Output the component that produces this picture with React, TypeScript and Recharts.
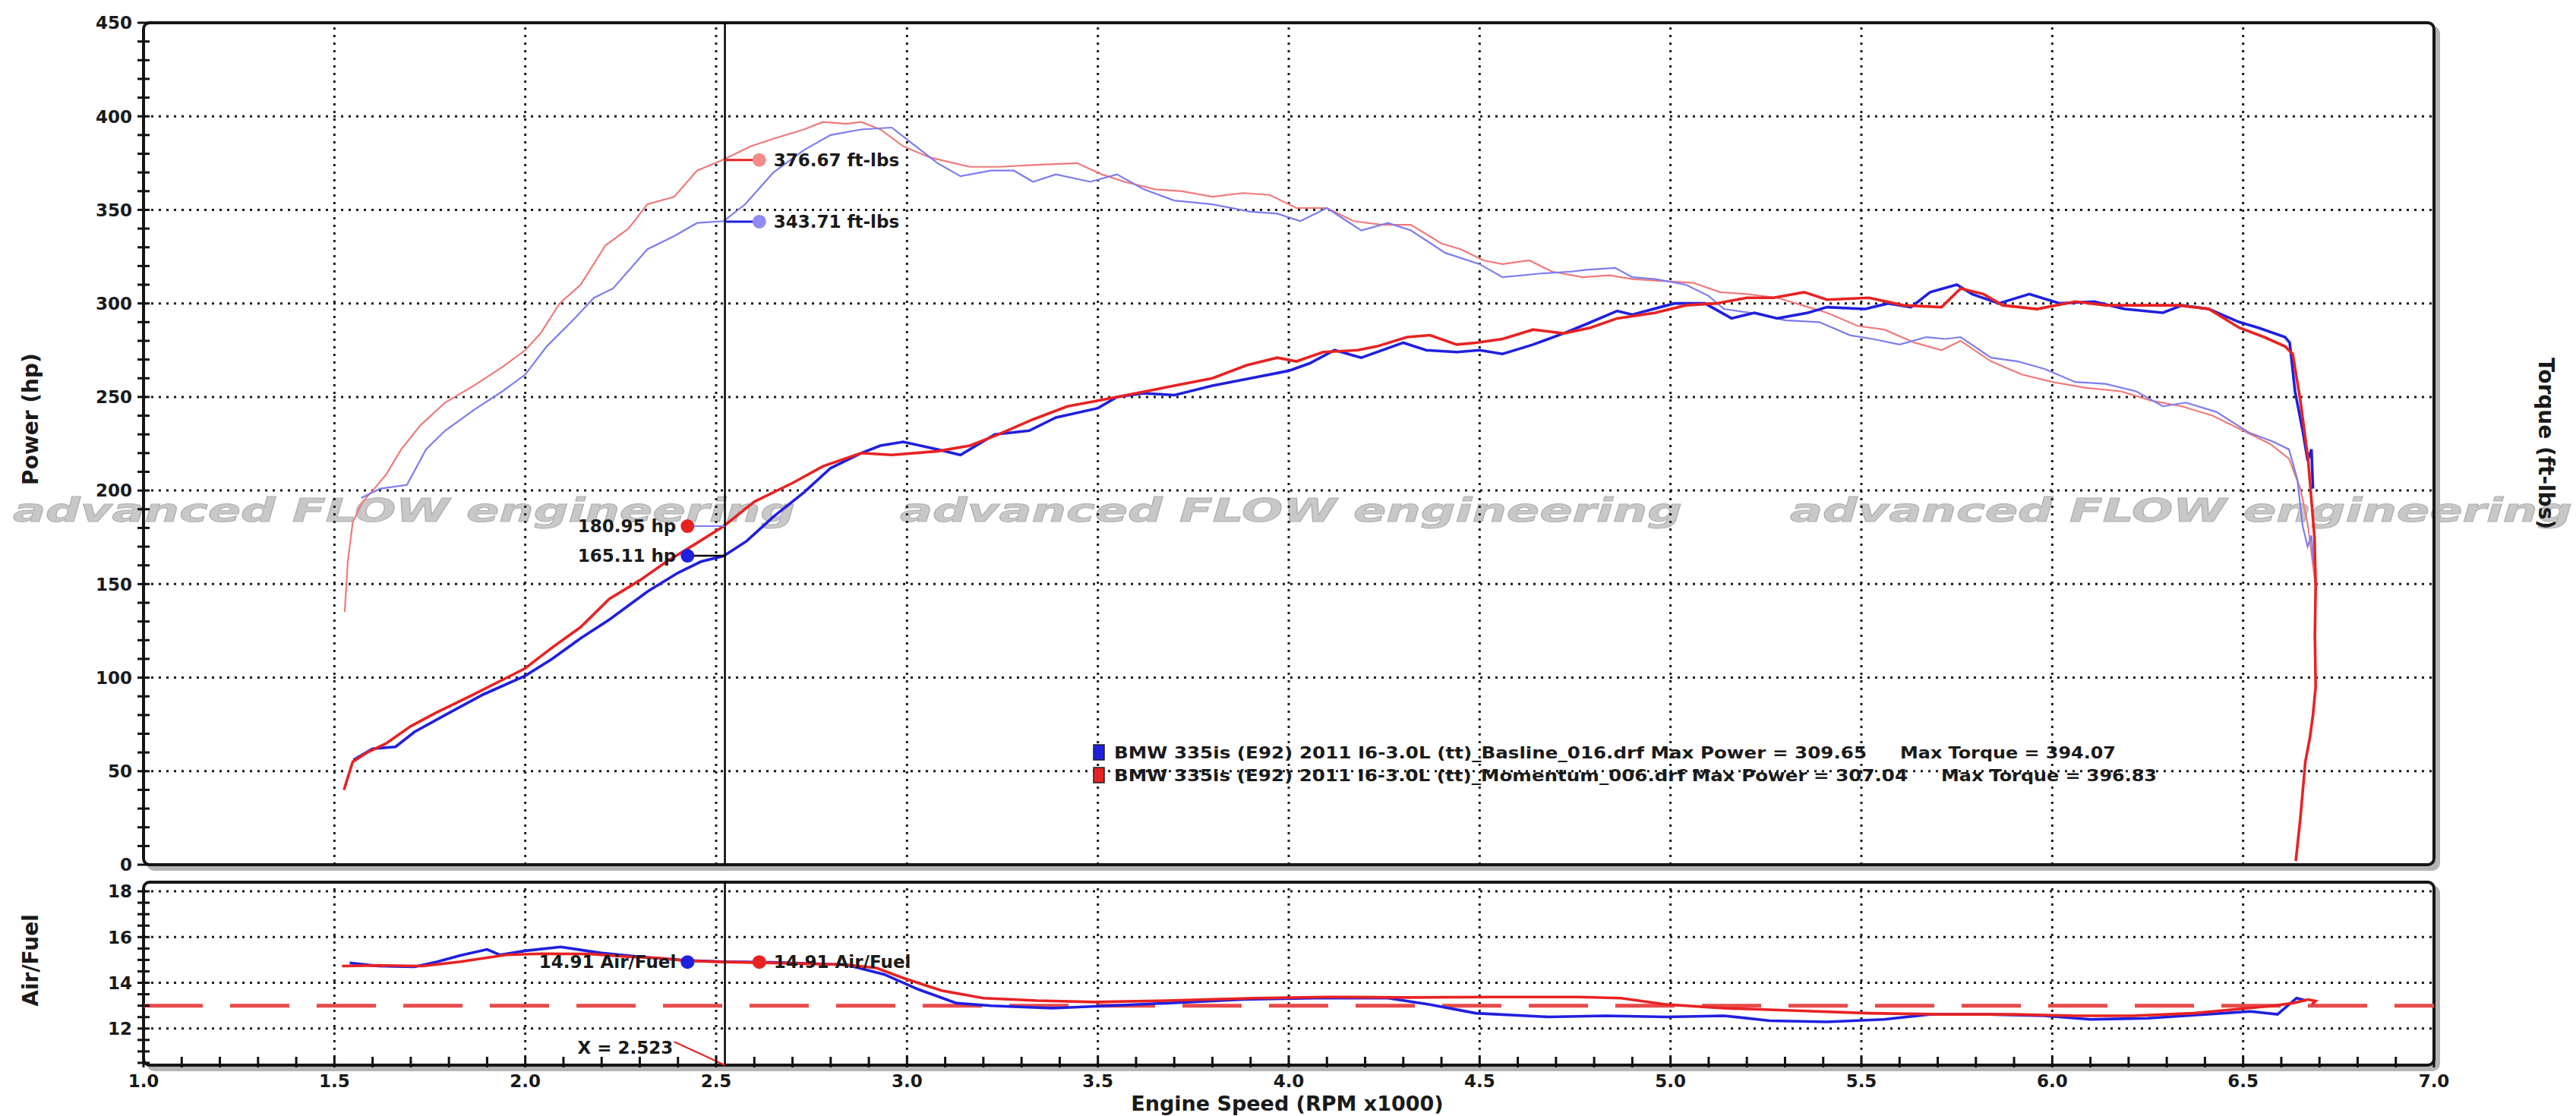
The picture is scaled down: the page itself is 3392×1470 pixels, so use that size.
import React from 'react';
import { Line, LineChart, ReferenceDot, ReferenceLine, XAxis, YAxis } from 'recharts';

// dyno run: BMW 335is (E92) baseline vs Momentum intake
const FONT = '"DejaVu Sans", Verdana, sans-serif';
const INK = '#111111';

const BLUE_POWER = '#1f1fe0';
const RED_POWER = '#e82222';
const BLUE_TORQUE = '#7c7cf0';
const RED_TORQUE = '#f07a7a';

// [rpm x1000, hp]
const basePower: [number, number][] = [
  [1.55, 56], [1.6, 62], [1.66, 63], [1.71, 71], [1.79, 80], [1.89, 91], [2.0, 101], [2.07, 110],
  [2.145, 121], [2.22, 131], [2.32, 146], [2.4, 156], [2.46, 162], [2.52, 165], [2.58, 173], [2.65, 186],
  [2.73, 199], [2.8, 212], [2.88, 220], [2.93, 224], [2.99, 226], [3.08, 222], [3.14, 219], [3.23, 230],
  [3.32, 232], [3.39, 239], [3.5, 244], [3.55, 250], [3.62, 252], [3.7, 251], [3.8, 256], [3.9, 260],
  [4.0, 264], [4.055, 268], [4.12, 275], [4.19, 271], [4.3, 279], [4.36, 275], [4.44, 274], [4.5, 275],
  [4.56, 273], [4.64, 278], [4.72, 284], [4.78, 289], [4.86, 296], [4.9, 294], [5.01, 300], [5.09, 300],
  [5.16, 292], [5.22, 295], [5.28, 292], [5.36, 295], [5.41, 298], [5.51, 297], [5.57, 300], [5.63, 298],
  [5.68, 306], [5.75, 310], [5.79, 305], [5.86, 300], [5.94, 305], [6.02, 300], [6.11, 301], [6.19, 297],
  [6.29, 295], [6.34, 299], [6.41, 297], [6.49, 290], [6.54, 287], [6.61, 282], [6.622, 279], [6.636, 253],
  [6.656, 232], [6.669, 216], [6.679, 222], [6.683, 201],
];

const momentumPower: [number, number][] = [
  [1.525, 40], [1.548, 55], [1.586, 60], [1.637, 65], [1.7, 74], [1.764, 81], [1.865, 91], [1.942, 99],
  [2.0, 105], [2.07, 116], [2.145, 127], [2.22, 142], [2.3, 152], [2.37, 162], [2.45, 172], [2.52, 181],
  [2.6, 194], [2.7, 204], [2.78, 213], [2.88, 220], [2.96, 219], [3.08, 221], [3.165, 224], [3.24, 230],
  [3.33, 238], [3.42, 245], [3.5, 248], [3.6, 252], [3.7, 256], [3.8, 260], [3.89, 267], [3.97, 271],
  [4.02, 269], [4.09, 274], [4.18, 275], [4.23, 277], [4.31, 282], [4.37, 283], [4.44, 278], [4.49, 279],
  [4.56, 281], [4.64, 286], [4.72, 284], [4.79, 287], [4.86, 292], [4.96, 295], [5.04, 299], [5.12, 300],
  [5.2, 303], [5.27, 303], [5.35, 306], [5.41, 302], [5.52, 303], [5.61, 299], [5.71, 298], [5.76, 308],
  [5.82, 305], [5.87, 299], [5.96, 297], [6.06, 301], [6.14, 299], [6.23, 299], [6.33, 299], [6.41, 297],
  [6.49, 287], [6.555, 282], [6.61, 277], [6.63, 273], [6.65, 248], [6.67, 217], [6.687, 175], [6.69, 149],
  [6.688, 123], [6.69, 95], [6.683, 80], [6.675, 68], [6.663, 55], [6.65, 25], [6.638, 2],
];

// [rpm x1000, ft-lbs]
const baseTorque: [number, number][] = [
  [1.57, 196], [1.62, 201], [1.69, 203], [1.74, 222], [1.79, 232], [1.865, 243], [1.94, 253], [2.0, 262],
  [2.056, 277], [2.12, 290], [2.18, 303], [2.23, 308], [2.32, 329], [2.39, 336], [2.45, 343], [2.52, 344],
  [2.576, 353], [2.65, 370], [2.73, 382], [2.8, 390], [2.88, 393], [2.96, 394], [3.01, 386], [3.08, 375],
  [3.14, 368], [3.22, 371], [3.28, 371], [3.33, 365], [3.39, 369], [3.48, 365], [3.55, 369], [3.62, 361],
  [3.7, 355], [3.8, 353], [3.9, 349], [3.97, 348], [4.03, 344], [4.1, 351], [4.19, 339], [4.26, 343],
  [4.32, 339], [4.41, 327], [4.5, 321], [4.56, 314], [4.66, 316], [4.74, 317], [4.78, 318], [4.855, 319],
  [4.9, 314], [4.96, 313], [5.04, 310], [5.1, 304], [5.14, 297], [5.21, 295], [5.3, 291], [5.39, 290],
  [5.47, 283], [5.53, 281], [5.6, 278], [5.67, 282], [5.72, 281], [5.76, 282], [5.84, 271], [5.91, 269],
  [5.98, 265], [6.06, 258], [6.14, 257], [6.22, 253], [6.29, 245], [6.35, 247], [6.43, 242], [6.515, 231],
  [6.58, 226], [6.62, 222], [6.642, 206], [6.656, 181], [6.669, 170], [6.679, 176], [6.685, 160],
];

const momentumTorque: [number, number][] = [
  [1.527, 135], [1.535, 162], [1.548, 183], [1.574, 194], [1.605, 201], [1.637, 209], [1.675, 222], [1.726, 235],
  [1.79, 247], [1.865, 256], [1.94, 266], [2.0, 275], [2.04, 284], [2.09, 300], [2.145, 310], [2.21, 331],
  [2.27, 340], [2.32, 353], [2.39, 357], [2.45, 371], [2.52, 377], [2.59, 384], [2.65, 388], [2.73, 393],
  [2.78, 397], [2.84, 396], [2.88, 397], [2.93, 393], [2.99, 384], [3.06, 378], [3.165, 373], [3.24, 373],
  [3.33, 374], [3.445, 375], [3.51, 369], [3.57, 365], [3.65, 361], [3.72, 360], [3.8, 357], [3.88, 359],
  [3.95, 358], [4.02, 351], [4.1, 351], [4.17, 344], [4.245, 342], [4.32, 342], [4.4, 332], [4.45, 329],
  [4.51, 323], [4.56, 321], [4.63, 323], [4.69, 317], [4.77, 314], [4.84, 315], [4.9, 313], [4.98, 312],
  [5.06, 311], [5.13, 306], [5.2, 305], [5.28, 303], [5.345, 299], [5.41, 295], [5.49, 288], [5.56, 286],
  [5.64, 279], [5.71, 275], [5.76, 280], [5.84, 269], [5.92, 262], [6.0, 258], [6.085, 255], [6.18, 253],
  [6.26, 248], [6.34, 245], [6.42, 240], [6.5, 232], [6.57, 225], [6.62, 217], [6.65, 201], [6.67, 181],
  [6.683, 160], [6.69, 149],
];

// [rpm x1000, air/fuel ratio]
const baseAfr: [number, number][] = [
  [1.54, 14.87], [1.615, 14.73], [1.71, 14.7], [1.77, 14.92], [1.83, 15.2], [1.9, 15.46], [1.934, 15.22],
  [2.0, 15.4], [2.093, 15.57], [2.2, 15.3], [2.3, 15.14], [2.42, 14.98], [2.52, 14.92], [2.65, 14.9],
  [2.84, 14.79], [2.94, 14.37], [3.03, 13.71], [3.13, 13.11], [3.22, 13.0], [3.38, 12.89], [3.53, 13.0],
  [3.68, 13.11], [3.88, 13.27], [4.07, 13.33], [4.26, 13.33], [4.37, 13.05], [4.49, 12.67], [4.68, 12.51],
  [4.83, 12.56], [4.99, 12.51], [5.14, 12.56], [5.26, 12.34], [5.41, 12.29], [5.56, 12.4], [5.68, 12.62],
  [5.83, 12.62], [5.98, 12.56], [6.1, 12.4], [6.25, 12.45], [6.4, 12.62], [6.52, 12.75], [6.59, 12.62],
  [6.64, 13.33], [6.665, 13.22],
];

const momentumAfr: [number, number][] = [
  [1.52, 14.73], [1.615, 14.76], [1.73, 14.73], [1.83, 14.92], [1.95, 15.22], [2.04, 15.27], [2.17, 15.26],
  [2.27, 15.14], [2.35, 15.08], [2.42, 14.97], [2.52, 14.91], [2.65, 14.87], [2.84, 14.79], [2.92, 14.65],
  [2.99, 14.21], [3.09, 13.66], [3.2, 13.33], [3.34, 13.22], [3.49, 13.16], [3.68, 13.22], [3.91, 13.33],
  [4.1, 13.38], [4.3, 13.36], [4.53, 13.38], [4.76, 13.38], [4.87, 13.33], [4.99, 13.05], [5.14, 12.89],
  [5.33, 12.78], [5.52, 12.67], [5.71, 12.62], [5.9, 12.62], [6.06, 12.56], [6.21, 12.56], [6.37, 12.67],
  [6.48, 12.84], [6.58, 13.0], [6.63, 13.11], [6.67, 13.27], [6.69, 13.2], [6.68, 13.05],
];

const CURSOR_RPM = 2.523;
const CURSOR_POWER = [180.95, 165.11]; // momentum, baseline
const CURSOR_TORQUE = [376.67, 343.71];
const CURSOR_AFR = 14.91;
const TARGET_AFR = 13.0;

const POWER_TICKS = Array.from({ length: 46 }, (_, i) => i * 10);
const POWER_GRID = [50, 100, 150, 200, 250, 300, 350, 400];
const AFR_TICKS = Array.from({ length: 16 }, (_, i) => 10.5 + i * 0.5);
const AFR_GRID = [12, 14, 16, 18];
const AFR_LABELS = [12, 14, 16, 18];
const RPM_TICKS = Array.from({ length: 61 }, (_, i) => Math.round((1 + i * 0.1) * 10) / 10);
const RPM_GRID = [1.5, 2.0, 2.5, 3.0, 3.5, 4.0, 4.5, 5.0, 5.5, 6.0, 6.5];

const LEGEND = [
  { color: BLUE_POWER, run: 'BMW 335is (E92) 2011 I6-3.0L (tt)_Basline_016.drf Max Power = 309.65', torque: 'Max Torque = 394.07' },
  { color: RED_POWER, run: 'BMW 335is (E92) 2011 I6-3.0L (tt)_Momentum_006.drf Max Power = 307.04', torque: 'Max Torque = 396.83' },
];

const toPoints = (rows: [number, number][]) => rows.map(([rpm, v]) => ({ rpm, v }));

const textStyle = { fontFamily: FONT, fontWeight: 'bold' as const, fill: '#1a1a1a' };
const dotted = { stroke: '#1a1a1a', strokeWidth: 3, strokeDasharray: '3 7' };

function LeftTick({ x, y, payload, labels }: any) {
  const v = payload.value;
  const show = labels ? labels.includes(v) : v % 50 === 0;
  return (
    <g>
      <line x1={x - 8} x2={x + 8} y1={y} y2={y} stroke={INK} strokeWidth={3} />
      {show && (
        <text x={x - 15} y={y} dy="0.36em" textAnchor="end" fontSize={23} {...textStyle}>{v}</text>
      )}
    </g>
  );
}

function RightTick({ x, y, payload }: any) {
  const v = payload.value;
  return (
    <g>
      <line x1={x - 8} x2={x + 8} y1={y} y2={y} stroke={INK} strokeWidth={3} />
      {v % 50 === 0 && (
        <text x={x + 15} y={y} dy="0.36em" textAnchor="start" fontSize={23} {...textStyle}>{v}</text>
      )}
    </g>
  );
}

function RpmTick({ x, y, payload }: any) {
  const v = payload.value;
  const major = Math.round(v * 10) % 5 === 0;
  return (
    <g>
      <line x1={x} x2={x} y1={y - 11} y2={y + 3} stroke={INK} strokeWidth={3} />
      {major && (
        <text x={x} y={y + 21} dy="0.36em" textAnchor="middle" fontSize={23} {...textStyle}>{v.toFixed(1)}</text>
      )}
    </g>
  );
}

const callout = (label: string, fill: string, side: 'left' | 'right') => (p: any) => (
  <g>
    <circle cx={p.cx} cy={p.cy} r={9} fill={fill} />
    <text
      x={side === 'right' ? p.cx + 19 : p.cx - 15}
      y={p.cy}
      dy="0.36em"
      textAnchor={side === 'right' ? 'start' : 'end'}
      fontSize={23}
      {...textStyle}
    >
      {label}
    </text>
  </g>
);

const LEFT_DOT = 2.425;
const RIGHT_DOT = 2.613;

function Frame({ top, height }: { top: number; height: number }) {
  return (
    <div
      style={{
        position: 'absolute',
        left: 187,
        top,
        width: 3020,
        height,
        boxSizing: 'border-box',
        border: '4px solid #161616',
        borderRadius: 10,
        boxShadow: '6px 6px 0 #b4b4b4',
      }}
    />
  );
}

export default function App() {
  const wm = [17, 1185, 2357];
  return (
    <div style={{ position: 'absolute', left: 0, top: 0, width: 3392, height: 1470, background: '#fff', overflow: 'hidden' }}>
      <svg width={3392} height={1470} style={{ position: 'absolute', left: 0, top: 0 }}>
        {wm.map((x) => (
          <text
            key={x}
            x={x}
            y={687}
            fontFamily={FONT}
            fontStyle="italic"
            fontWeight="bold"
            fontSize={42}
            fill="#c8c8c8"
            stroke="#b0b0b0"
            strokeWidth={1}
            textLength={1030}
            lengthAdjust="spacingAndGlyphs"
          >
            advanced FLOW engineering
          </text>
        ))}
      </svg>

      <Frame top={28} height={1113} />
      <Frame top={1160} height={245} />

      <div style={{ position: 'absolute', left: 0, top: 0 }}>
        <LineChart width={3392} height={1175} margin={{ top: 30, right: 0, bottom: 36, left: 0 }}>
          <XAxis type="number" dataKey="rpm" domain={[1, 7]} allowDataOverflow hide />
          <YAxis
            yAxisId="left"
            type="number"
            domain={[0, 450]}
            ticks={POWER_TICKS}
            interval={0}
            width={189}
            axisLine={false}
            tickLine={false}
            tickSize={0}
            tickMargin={0}
            tick={<LeftTick />}
          />
          <YAxis
            yAxisId="right"
            orientation="right"
            type="number"
            domain={[0, 450]}
            ticks={POWER_TICKS}
            interval={0}
            width={187}
            axisLine={false}
            tickLine={false}
            tickSize={0}
            tickMargin={0}
            tick={<RightTick />}
          />
          {POWER_GRID.map((v) => (
            <ReferenceLine key={`h${v}`} yAxisId="left" y={v} {...dotted} />
          ))}
          {RPM_GRID.map((v) => (
            <ReferenceLine key={`v${v}`} yAxisId="left" x={v} {...dotted} />
          ))}

          <Line yAxisId="left" data={toPoints(momentumTorque)} dataKey="v" type="linear" stroke={RED_TORQUE} strokeWidth={2.2} dot={false} activeDot={false} isAnimationActive={false} />
          <Line yAxisId="left" data={toPoints(baseTorque)} dataKey="v" type="linear" stroke={BLUE_TORQUE} strokeWidth={2.2} dot={false} activeDot={false} isAnimationActive={false} />
          <Line yAxisId="left" data={toPoints(basePower)} dataKey="v" type="linear" stroke={BLUE_POWER} strokeWidth={3.6} dot={false} activeDot={false} isAnimationActive={false} />
          <Line yAxisId="left" data={toPoints(momentumPower)} dataKey="v" type="linear" stroke={RED_POWER} strokeWidth={3.6} dot={false} activeDot={false} isAnimationActive={false} />

          <ReferenceLine yAxisId="left" x={CURSOR_RPM} stroke="#000" strokeWidth={2.5} />

          <ReferenceLine yAxisId="left" segment={[{ x: CURSOR_RPM, y: CURSOR_TORQUE[0] }, { x: RIGHT_DOT, y: CURSOR_TORQUE[0] }]} stroke={RED_POWER} strokeWidth={3} />
          <ReferenceLine yAxisId="left" segment={[{ x: CURSOR_RPM, y: CURSOR_TORQUE[1] }, { x: RIGHT_DOT, y: CURSOR_TORQUE[1] }]} stroke={BLUE_POWER} strokeWidth={3} />
          <ReferenceLine yAxisId="left" segment={[{ x: LEFT_DOT, y: CURSOR_POWER[0] }, { x: CURSOR_RPM, y: CURSOR_POWER[0] }]} stroke={BLUE_TORQUE} strokeWidth={2} />
          <ReferenceLine yAxisId="left" segment={[{ x: LEFT_DOT, y: CURSOR_POWER[1] }, { x: CURSOR_RPM, y: CURSOR_POWER[1] }]} stroke="#000" strokeWidth={2.5} />

          <ReferenceDot yAxisId="left" x={RIGHT_DOT} y={CURSOR_TORQUE[0]} r={9} shape={callout(`${CURSOR_TORQUE[0].toFixed(2)} ft-lbs`, '#f28a8a', 'right')} />
          <ReferenceDot yAxisId="left" x={RIGHT_DOT} y={CURSOR_TORQUE[1]} r={9} shape={callout(`${CURSOR_TORQUE[1].toFixed(2)} ft-lbs`, '#8c8cf2', 'right')} />
          <ReferenceDot yAxisId="left" x={LEFT_DOT} y={CURSOR_POWER[0]} r={9} shape={callout(`${CURSOR_POWER[0].toFixed(2)} hp`, RED_POWER, 'left')} />
          <ReferenceDot yAxisId="left" x={LEFT_DOT} y={CURSOR_POWER[1]} r={9} shape={callout(`${CURSOR_POWER[1].toFixed(2)} hp`, BLUE_POWER, 'left')} />
        </LineChart>
      </div>

      <div style={{ position: 'absolute', left: 0, top: 1150 }}>
        <LineChart width={3392} height={320} margin={{ top: 12, right: 187, bottom: 0, left: 0 }}>
          <XAxis
            type="number"
            dataKey="rpm"
            domain={[1, 7]}
            allowDataOverflow
            ticks={RPM_TICKS}
            interval={0}
            height={67}
            axisLine={false}
            tickLine={false}
            tickSize={0}
            tickMargin={0}
            tick={<RpmTick />}
          />
          <YAxis
            type="number"
            domain={[10.4, 18.4]}
            allowDataOverflow
            ticks={AFR_TICKS}
            interval={0}
            width={189}
            axisLine={false}
            tickLine={false}
            tickSize={0}
            tickMargin={0}
            tick={<LeftTick labels={AFR_LABELS} />}
          />
          {AFR_GRID.map((v) => (
            <ReferenceLine key={`h${v}`} y={v} {...dotted} />
          ))}
          {RPM_GRID.map((v) => (
            <ReferenceLine key={`v${v}`} x={v} {...dotted} />
          ))}
          <ReferenceLine y={TARGET_AFR} stroke="#e84a4a" strokeWidth={5} strokeDasharray="78 36" />

          <Line data={toPoints(baseAfr)} dataKey="v" type="linear" stroke={BLUE_POWER} strokeWidth={3.6} dot={false} activeDot={false} isAnimationActive={false} />
          <Line data={toPoints(momentumAfr)} dataKey="v" type="linear" stroke={RED_POWER} strokeWidth={3.6} dot={false} activeDot={false} isAnimationActive={false} />

          <ReferenceLine x={CURSOR_RPM} stroke="#000" strokeWidth={2.5} />
          <ReferenceLine segment={[{ x: 2.39, y: 11.42 }, { x: CURSOR_RPM, y: 10.4 }]} stroke={RED_POWER} strokeWidth={2} />
          <ReferenceDot
            x={2.387}
            y={11.16}
            r={1}
            shape={(p: any) => (
              <text x={p.cx} y={p.cy} dy="0.36em" textAnchor="end" fontSize={23} {...textStyle}>
                {`X = ${CURSOR_RPM.toFixed(3)}`}
              </text>
            )}
          />
          <ReferenceDot x={LEFT_DOT} y={CURSOR_AFR} r={9} shape={callout(`${CURSOR_AFR.toFixed(2)} Air/Fuel`, BLUE_POWER, 'left')} />
          <ReferenceDot x={RIGHT_DOT} y={CURSOR_AFR} r={9} shape={callout(`${CURSOR_AFR.toFixed(2)} Air/Fuel`, RED_POWER, 'right')} />
        </LineChart>
      </div>

      <svg width={3392} height={1470} style={{ position: 'absolute', left: 0, top: 0, pointerEvents: 'none' }}>
        <text transform="translate(50 552) rotate(-90)" textAnchor="middle" fontSize={28} {...textStyle}>Power (hp)</text>
        <text transform="translate(3343 584) rotate(90)" textAnchor="middle" fontSize={28} {...textStyle}>Torque (ft-lbs)</text>
        <text transform="translate(50 1265) rotate(-90)" textAnchor="middle" fontSize={28} {...textStyle}>Air/Fuel</text>
        <text x={1695} y={1463} textAnchor="middle" fontSize={27} {...textStyle}>Engine Speed (RPM x1000)</text>

        {LEGEND.map((row, i) => {
          const y = 991 + i * 30;
          return (
            <g key={row.run}>
              <rect x={1440} y={y - 10} width={14} height={20} fill={row.color} stroke="#222" strokeWidth={1.5} />
              <text x={1467} y={y} dy="0.36em" fontSize={21} textLength={i === 0 ? 991 : 1045} lengthAdjust="spacingAndGlyphs" {...textStyle}>
                {row.run}
              </text>
              <text x={i === 0 ? 2502 : 2556} y={y} dy="0.36em" fontSize={21} textLength={284} lengthAdjust="spacingAndGlyphs" {...textStyle}>
                {row.torque}
              </text>
            </g>
          );
        })}
      </svg>
    </div>
  );
}
